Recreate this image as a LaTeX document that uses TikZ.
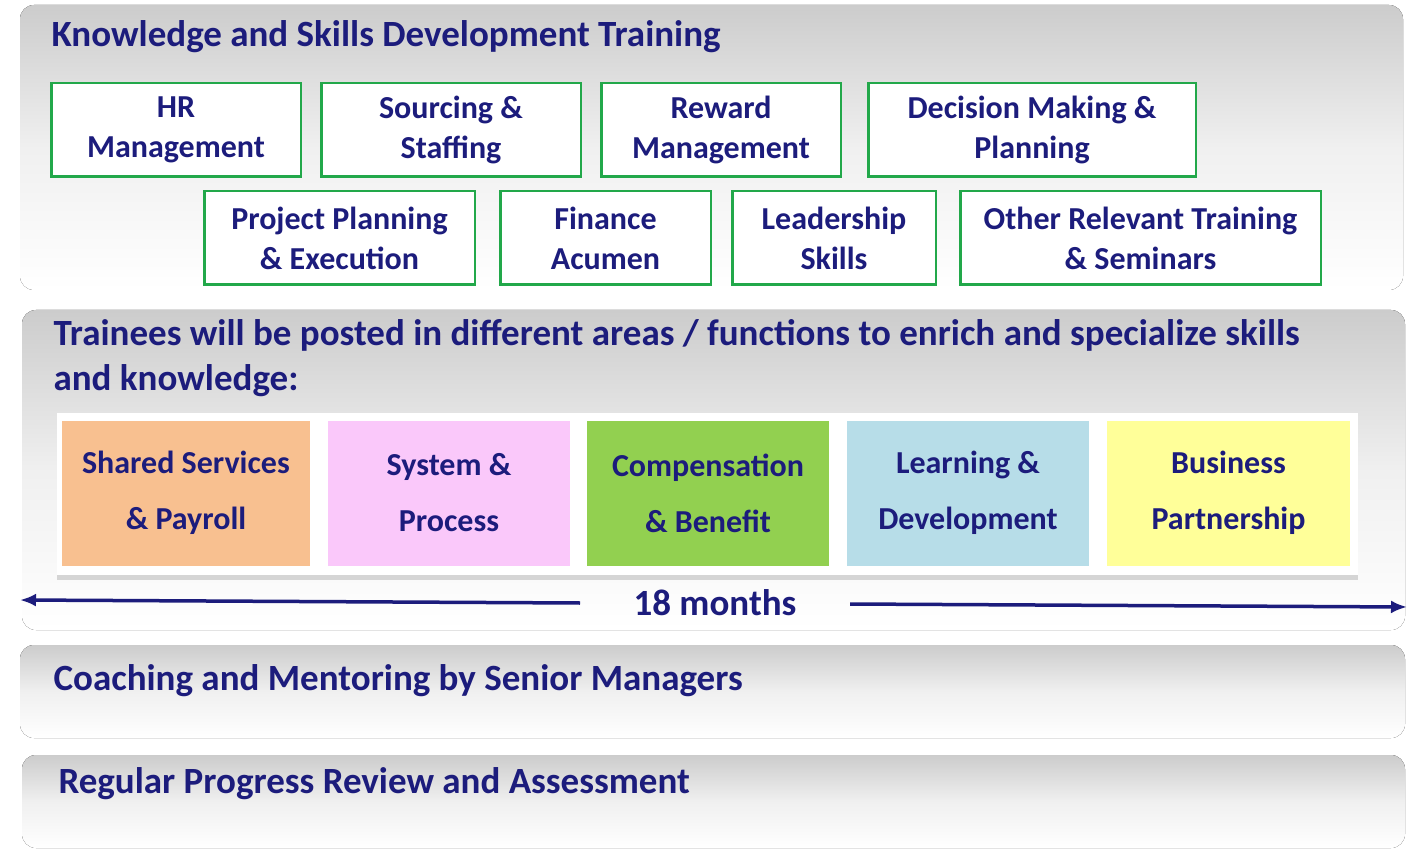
\documentclass[tikz,border=0pt]{standalone}
\usepackage{fontspec}
\setmainfont{Carlito}
\usetikzlibrary{arrows.meta,shadows}
\definecolor{navy}{HTML}{1C1C7C}
\definecolor{gbord}{HTML}{22A84A}
\tikzset{
 panel/.style={rounded corners=14pt,top color=black!20,bottom color=white,middle color=black!6,draw=none},
 gbox/.style={draw=gbord,line width=2.5pt,fill=white,align=center,text=navy,font=\bfseries\fontsize{32}{40}\selectfont},
 cbox/.style={align=center,text=navy,font=\bfseries\fontsize{32}{56}\selectfont},
 head/.style={anchor=west,text=navy,font=\bfseries\fontsize{37}{45}\selectfont,align=left},
 arr/.style={navy,line width=3.5pt,-{Latex[length=16pt,width=13pt]}}
}
\begin{document}
\begin{tikzpicture}[x=1pt,y=-1pt]
\useasboundingbox (0,0) rectangle (1427,850);
\fill[panel] (20,5) rectangle (1403,290);
\fill[panel] (22,310) rectangle (1405,630);
\fill[panel] (20,645) rectangle (1405,738);
\fill[panel] (22,755) rectangle (1405,848);
\node[head] (t1) at (48,37) {Knowledge and Skills Development Training};
\foreach \a/\b/\c/\d/\n/\t in {50/302/82/178/g1/{HR\\Management},320/582/82/178/g2/{Sourcing \&\\Staffing},600/842/82/178/g3/{Reward\\Management},867/1197/82/178/g4/{Decision Making \&\\Planning},203/476/190/286/g5/{Project Planning\\\& Execution},499/712/190/286/g6/{Finance\\Acumen},731/937/190/286/g7/{Leadership\\Skills},959/1322/190/286/g8/{Other Relevant Training\\\& Seminars}}{
 \node[gbox,minimum width=\b-\a-2.5,minimum height=\d-\c-2.5,inner sep=0pt] (\n) at ({(\a+\b)/2},{(\c+\d)/2}) {\t};
}
\node[head] (t2) at (50,358) {Trainees will be posted in different areas / functions to enrich and specialize skills\\and knowledge:};
\fill[white,drop shadow={shadow xshift=0pt,shadow yshift=-5pt,fill=black!30}] (57,413) rectangle (1358,575);
\foreach \a/\b/\col/\n/\t in {62/310/F8C090/c1/{Shared Services\\\& Payroll},328/570/FAC8FA/c2/{System \&\\Process},587/829/92D050/c3/{Compensation\\\& Benefit},847/1089/B7DDE8/c4/{Learning \&\\Development},1107/1350/FFFF99/c5/{Business\\Partnership}}{
 \definecolor{tmp}{HTML}{\col}
 \node[cbox,fill=tmp,minimum width=\b-\a,minimum height=145,inner sep=0pt] (\n) at ({(\a+\b)/2},493) {\t};
}
\node[text=navy,font=\bfseries\fontsize{37}{40}\selectfont] (m) at (715,603) {18 months};
\coordinate (l1) at (580,603); \coordinate (l2) at (20,600);
\coordinate (r1) at (850,604); \coordinate (r2) at (1407,607);
\draw[arr] (l1) -- (l2);
\draw[arr] (r1) -- (r2);
\node[head] (t3) at (50,681) {Coaching and Mentoring by Senior Managers};
\node[head] (t4) at (55,784) {Regular Progress Review and Assessment};
\end{tikzpicture}
\end{document}
